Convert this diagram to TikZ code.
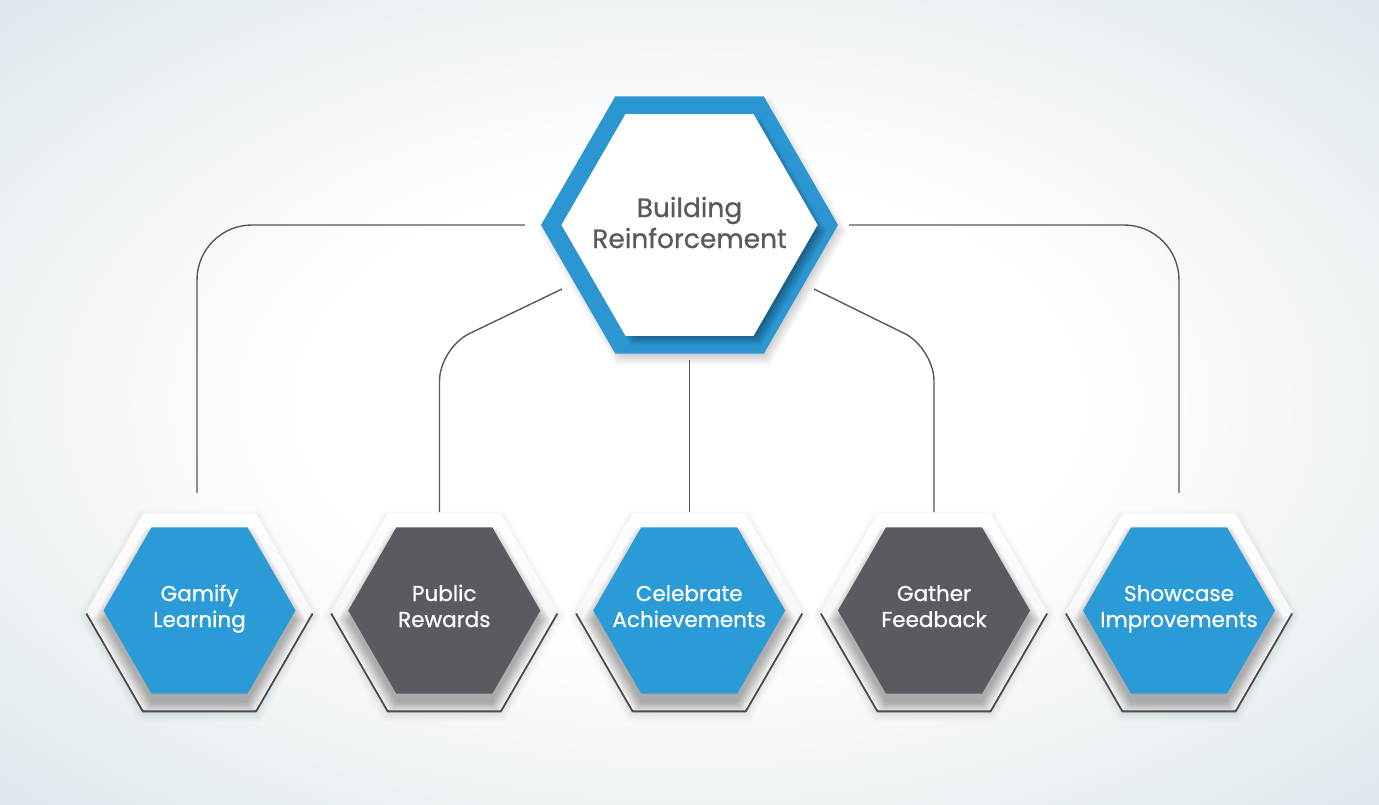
\documentclass[tikz,border=0pt]{standalone}
\usepackage{fontspec}
\setmainfont{Poppins}
\newfontfamily\medfont{Poppins}[FakeBold=0.7]
\usetikzlibrary{calc}
\definecolor{bgedge}{HTML}{C8D8E0}
\definecolor{hexblue}{HTML}{2B9BD8}
\definecolor{hexgray}{HTML}{5A5A60}
\definecolor{topblue}{HTML}{2C96D3}
\definecolor{linec}{HTML}{55585C}
\definecolor{textgray}{HTML}{5A5A5E}
\definecolor{darkline}{HTML}{4A4B50}
\pgfdeclareradialshading{bgshade}{\pgfpoint{0bp}{0bp}}{color(0bp)=(white);color(14bp)=(white);color(50bp)=(bgedge);color(80bp)=(bgedge)}
\newcommand\hexat[3]{({(#1)+(#3)},{#2}) -- ({(#1)+0.5*(#3)},{(#2)+0.8660254*(#3)}) -- ({(#1)-0.5*(#3)},{(#2)+0.8660254*(#3)}) -- ({(#1)-(#3)},{#2}) -- ({(#1)-0.5*(#3)},{(#2)-0.8660254*(#3)}) -- ({(#1)+0.5*(#3)},{(#2)-0.8660254*(#3)}) -- cycle}
\begin{document}
\begin{tikzpicture}[x=1pt,y=-1pt,
  conn/.style={draw=linec, line width=1.4pt},
  lbl/.style={align=center, text=white, font=\medfont\fontsize{21.5}{26}\selectfont, inner sep=0pt},
  toplbl/.style={align=center, text=textgray, font=\medfont\fontsize{26.5}{31}\selectfont, inner sep=0pt},
  edge line/.style={draw=darkline, line width=2pt, line join=round}]
\useasboundingbox (0,0) rectangle (1379,805);
\shade[shading=bgshade] (0,0) rectangle (1379,805);

% connector end points
\coordinate (tw) at (525,225);
\coordinate (te) at (849,225);
\coordinate (tsw) at (562,289);
\coordinate (tse) at (814,289);
\coordinate (ts) at (689.5,360);
\coordinate (b1) at (197,493);
\coordinate (b2) at (439.5,512);
\coordinate (b3) at (689.5,512);
\coordinate (b4) at (934,512);
\coordinate (b5) at (1179,493);

\draw[conn, rounded corners=55pt] (tw) -- (197,225) -- (b1);
\draw[conn, rounded corners=55pt] (te) -- (1179,225) -- (b5);
\draw[conn, rounded corners=33pt] (tsw) -- (439.5,348) -- (b2);
\draw[conn, rounded corners=33pt] (tse) -- (934,348) -- (b4);
\draw[conn] (ts) -- (b3);

% top hexagon
\foreach \k in {1,...,12}
  \fill[black, opacity=0.018] \hexat{693}{231}{138+\k*1.4};
\fill[topblue] \hexat{689.5}{225}{148.5};
\begin{scope}
  \clip \hexat{689.5}{225}{148.5};
  \foreach \k in {1,...,10}
    \fill[black, opacity=0.04] \hexat{696}{232}{118+\k*1.3};
\end{scope}
\fill[white] \hexat{689.5}{225}{128};
\node[toplbl] (top) at (689.5,226.3) {\strut Building\\\strut Reinforcement};

% bottom hexagons
\foreach \cx/\col/\txt/\nm in {199.5/hexblue/{\strut Gamify\\\strut Learning}/n1,
    444.3/hexgray/{\strut Public\\\strut Rewards}/n2,
    689.2/hexblue/{\strut Celebrate\\\strut Achievements}/n3,
    934/hexgray/{\strut Gather\\\strut Feedback}/n4,
    1179/hexblue/{\strut Showcase\\\strut Improvements}/n5}{
  \foreach \k in {1,...,8}
    \fill[black, opacity=0.012] \hexat{\cx}{616}{110+\k*1.5};
  \draw[edge line] ({\cx-113},613.5) -- ({\cx-56.5},{613.5+97.86}) -- ({\cx+56.5},{613.5+97.86}) -- ({\cx+113},613.5);
  \shade[top color=white, bottom color=gray!12] \hexat{\cx}{611.5}{113};
  \begin{scope}
    \clip \hexat{\cx}{611.5}{113};
    \foreach \k in {1,...,10}
      \fill[black, opacity=0.03] \hexat{\cx}{620}{94+\k*1.3};
  \end{scope}
  \fill[\col] \hexat{\cx}{610.5}{96};
  \node[lbl] (\nm) at (\cx,608.8) {\txt};
}
\end{tikzpicture}
\end{document}
